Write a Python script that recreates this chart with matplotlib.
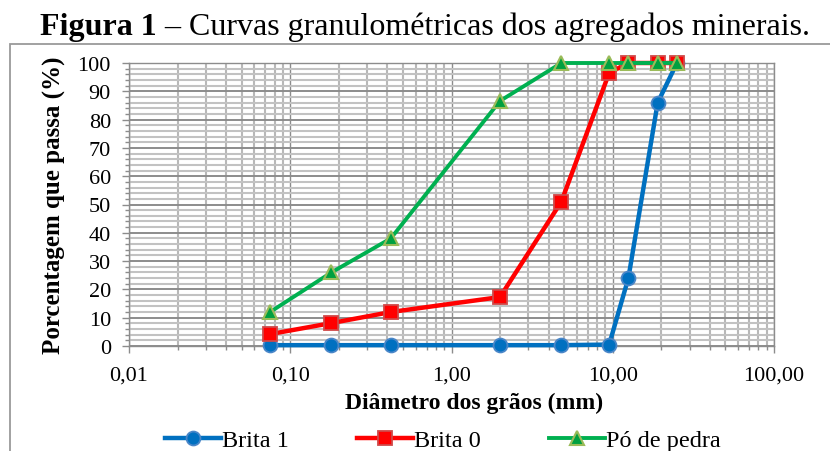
import matplotlib
matplotlib.use("Agg")
import matplotlib.pyplot as plt
from matplotlib.ticker import FixedLocator, FixedFormatter, LogLocator, MultipleLocator, NullFormatter
from matplotlib.patches import Rectangle

# Sieve openings (mm) and percentage passing for each aggregate
diametro = [0.075, 0.18, 0.42, 2.0, 4.8, 9.5, 12.5, 19.0, 25.0]
brita_1 = [0.3, 0.3, 0.3, 0.3, 0.3, 0.5, 24.0, 86.0, 100.0]
brita_0 = [4.2, 8.1, 12.0, 17.3, 51.0, 96.5, 100.0, 100.0, 100.0]
po_de_pedra = [12.0, 26.0, 38.0, 86.6, 100.0, 100.0, 100.0, 100.0, 100.0]

x_ticks = [0.01, 0.1, 1, 10, 100]
x_tick_labels = ["0,01", "0,10", "1,00", "10,00", "100,00"]
y_ticks = list(range(0, 101, 10))

plt.rcParams["font.family"] = ["Liberation Serif", "DejaVu Serif"]

W, H = 830, 452
fig = plt.figure(figsize=(W / 100, H / 100), dpi=100)
ax = fig.add_axes([129 / W, (H - 347) / H, 645 / W, 283 / H])

ax.plot(diametro, brita_1, color="#0070C0", lw=3.2, marker="o", ms=10,
        mfc="#0070C0", mec="#4A86C8", mew=1.3, label="Brita 1", zorder=3, clip_on=False)
ax.plot(diametro, brita_0, color="#FF0000", lw=3.2, marker="s", ms=9.5,
        mfc="#FF0000", mec="#D04848", mew=1.3, label="Brita 0", zorder=4, clip_on=False)
ax.plot(diametro, po_de_pedra, color="#00B050", lw=2.8, marker="^", ms=10.5,
        mfc="#00A040", mec="#9BBB59", mew=1.5, label="Pó de pedra", zorder=5, clip_on=False)

ax.set_xscale("log")
ax.set_xlim(0.01, 100)
ax.set_ylim(0, 100)

ax.xaxis.set_major_locator(FixedLocator(x_ticks))
ax.xaxis.set_major_formatter(FixedFormatter(x_tick_labels))
ax.xaxis.set_minor_locator(LogLocator(base=10, subs=range(2, 10)))
ax.xaxis.set_minor_formatter(NullFormatter())
ax.yaxis.set_major_locator(FixedLocator(y_ticks))
ax.yaxis.set_minor_locator(MultipleLocator(2))

ax.grid(which="major", axis="x", color="#8C8C8C", lw=1.0)
ax.grid(which="minor", axis="x", color="#B8B8B8", lw=1.5)
ax.grid(which="major", axis="y", color="#8C8C8C", lw=1.4)
ax.grid(which="minor", axis="y", color="#C2C2C2", lw=1.5)
ax.set_axisbelow(True)

for s in ax.spines.values():
    s.set_color("#8C8C8C")
    s.set_linewidth(1.0)

ax.tick_params(which="major", length=5, width=1, color="#8C8C8C", labelsize=16)
ax.tick_params(which="minor", length=3, width=1, color="#8C8C8C")
ax.tick_params(axis="x", which="major", pad=9)
ax.tick_params(axis="y", which="major", pad=8)

ax.set_xlabel("Diâmetro dos grãos (mm)", fontsize=17, fontweight="bold")
ax.xaxis.set_label_coords(0.535, -0.2)
ax.xaxis.label.set_va("center")
ax.set_ylabel("Porcentagem que passa (%)", fontsize=18, fontweight="bold")
ax.yaxis.set_label_coords(-0.115, 0.5)
ax.yaxis.label.set_va("center")

leg = fig.legend(loc="center", bbox_to_anchor=(443 / W, (H - 441) / H), ncol=3,
                 frameon=False, fontsize=17.5, handlelength=2.3, handletextpad=0.05,
                 columnspacing=2.8, borderpad=0)

# Chart area frame
fig.patches.append(Rectangle((10 / W, -0.2), 1.2, (H - 45) / H + 0.2,
                             transform=fig.transFigure, fill=False,
                             edgecolor="#9A9A9A", lw=1.3, clip_on=False))

# Caption: bold figure number followed by regular text
renderer = fig.canvas.get_renderer()
y_base = (H - 35) / H
t1 = fig.text(0, y_base, "Figura 1", fontsize=23, fontweight="bold", va="baseline")
t2 = fig.text(0, y_base, " – Curvas granulométricas dos agregados minerais.",
              fontsize=23, va="baseline")
w1 = t1.get_window_extent(renderer).width
w2 = t2.get_window_extent(renderer).width
x0 = 425 - (w1 + w2) / 2
t1.set_x(x0 / W)
t2.set_x((x0 + w1) / W)

fig.savefig("out.png", dpi=100)
